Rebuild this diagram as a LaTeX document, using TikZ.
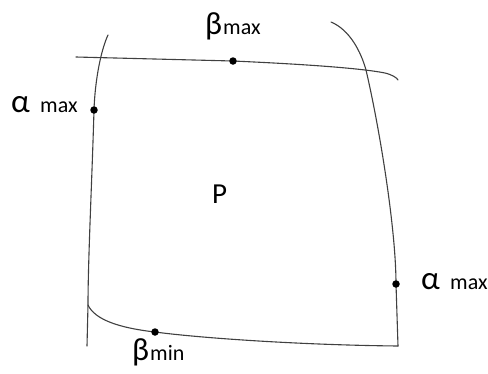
\documentclass[tikz,border=0pt]{standalone}
\usepackage{fontspec}
\setmainfont{Carlito}
\tikzset{
  curve/.style={draw=black!75, line width=1.1pt, line cap=round},
  dotmark/.style={circle, fill=black, inner sep=0pt, minimum size=7.5pt},
  big/.style={font=\fontsize{33}{33}\selectfont, inner sep=0pt, anchor=base west},
  bigb/.style={font=\fontsize{32}{32}\selectfont, inner sep=0pt, anchor=base west},
  small/.style={font=\fontsize{22}{22}\selectfont, inner sep=0pt, anchor=base west}
}
\begin{document}
\begin{tikzpicture}[x=1pt,y=-1pt]
\useasboundingbox (0,0) rectangle (488,373);
% left curve
\draw[curve] (108,35) .. controls (101,50) and (95,80) .. (94,110)
  .. controls (92,180) and (88,260) .. (88,305) -- (87,346);
% bottom curve
\draw[curve] (88,305) .. controls (95,320) and (120,328) .. (155,332)
  .. controls (200,338) and (300,345) .. (398,346);
% right curve
\draw[curve] (331,22) .. controls (350,30) and (361,52) .. (366,70)
  .. controls (380,130) and (396,230) .. (396,284) -- (398,346);
% top curve
\draw[curve] (76,57) -- (233,61) .. controls (300,64) and (360,68) .. (385,73)
  .. controls (393,75) and (397,78) .. (398,80);
% dots
\node[dotmark] (bmax) at (233,61) {};
\node[dotmark] (amaxl) at (94,110) {};
\node[dotmark] (amaxr) at (396,284) {};
\node[dotmark] (bmin) at (155,332) {};
% labels
\node[bigb] (lbmax) at (205,34) {β};
\node[small] (lbmaxs) at (223,34) {max};
\node[big] (lamaxl) at (11,112) {α};
\node[small] (lamaxls) at (40,112) {max};
\node[big] (lamaxr) at (421,289) {α};
\node[small] (lamaxrs) at (450,289) {max};
\node[bigb] (lbmin) at (132,360) {β};
\node[small] (lbmins) at (150,360) {min};
\node[font=\fontsize{29}{29}\selectfont, inner sep=0pt, anchor=base west] (P) at (212,203) {P};
\end{tikzpicture}
\end{document}
